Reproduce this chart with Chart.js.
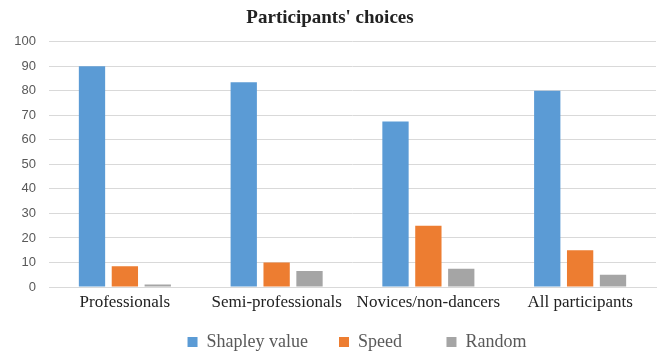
<!DOCTYPE html>
<html>
<head>
<meta charset="utf-8">
<script src="https://cdn.jsdelivr.net/npm/chart.js@4"></script>
<style>
html, body { margin: 0; padding: 0; background: #fff; }
#wrap { width: 669px; height: 354px; }
</style>
</head>
<body>
<div id="wrap"><canvas id="c"></canvas></div>
<script>
// categories and series
var categories = ['Professionals', 'Semi-professionals', 'Novices/non-dancers', 'All participants'];
var shapley = [90, 83.5, 67.5, 80];
var speed = [8.5, 10, 25, 15];
var random = [1, 6.5, 7.4, 5];
var yTicks = [0, 10, 20, 30, 40, 50, 60, 70, 80, 90, 100];

// spaces after legend text, to spread the items like the original
var legendGap = ['      ', '         ', ''];

// move the legend a bit (right / down) after layout
var legendShift = {
    id: 'legendShift',
    afterLayout: function(chart) {
        var lg = chart.legend;
        lg.left += 27; lg.right += 27;
        lg.top += 7; lg.bottom += 7;
    }
};

var ctx = document.getElementById('c');

var myChart = new Chart(ctx, {
    type: 'bar',
    data: {
        labels: categories,
        datasets: [{
            label: 'Shapley value',
            data: shapley,
            backgroundColor: '#5B9BD5'
        }, {
            label: 'Speed',
            data: speed,
            backgroundColor: '#ED7D31'
        }, {
            label: 'Random',
            data: random,
            backgroundColor: '#A5A5A5'
        }]
    },
    plugins: [legendShift],
    options: {
        responsive: true,
        maintainAspectRatio: false,
        animation: false,
        layout: { padding: { left: 4, right: 13, top: 2, bottom: 0 } },
        datasets: {
            bar: { barPercentage: 0.8, categoryPercentage: 0.65 }
        },
        plugins: {
            title: {
                display: true,
                text: "Participants' choices",
                color: '#222',
                font: { family: 'Liberation Serif', size: 19, weight: 'bold' },
                padding: { top: 5, bottom: 12 }
            },
            legend: {
                position: 'bottom',
                labels: {
                    color: '#595959',
                    font: { family: 'Liberation Serif', size: 18 },
                    boxWidth: 10,
                    boxHeight: 10,
                    padding: 4,
                    generateLabels: function(chart) {
                        var items = Chart.defaults.plugins.legend.labels.generateLabels(chart);
                        items.forEach(function(it, i) {
                            it.text = it.text + legendGap[i];
                            it.lineWidth = 0;
                        });
                        return items;
                    }
                }
            },
            tooltip: { enabled: false }
        },
        scales: {
            x: {
                afterFit: function(axis) { axis.height = 35; },
                grid: { display: false, drawTicks: false },
                border: { color: '#d9d9d9' },
                ticks: {
                    color: '#222',
                    font: { family: 'Liberation Serif', size: 17 },
                    padding: 5
                }
            },
            y: {
                min: 0,
                max: 100,
                afterBuildTicks: function(axis) {
                    axis.ticks = yTicks.map(function(v) { return { value: v }; });
                },
                afterFit: function(axis) { axis.width = 45; },
                grid: { color: '#d9d9d9', drawTicks: false },
                border: { display: false },
                ticks: {
                    color: '#595959',
                    font: { family: 'Liberation Sans', size: 13 },
                    padding: 13
                }
            }
        }
    }
});
</script>
</body>
</html>
